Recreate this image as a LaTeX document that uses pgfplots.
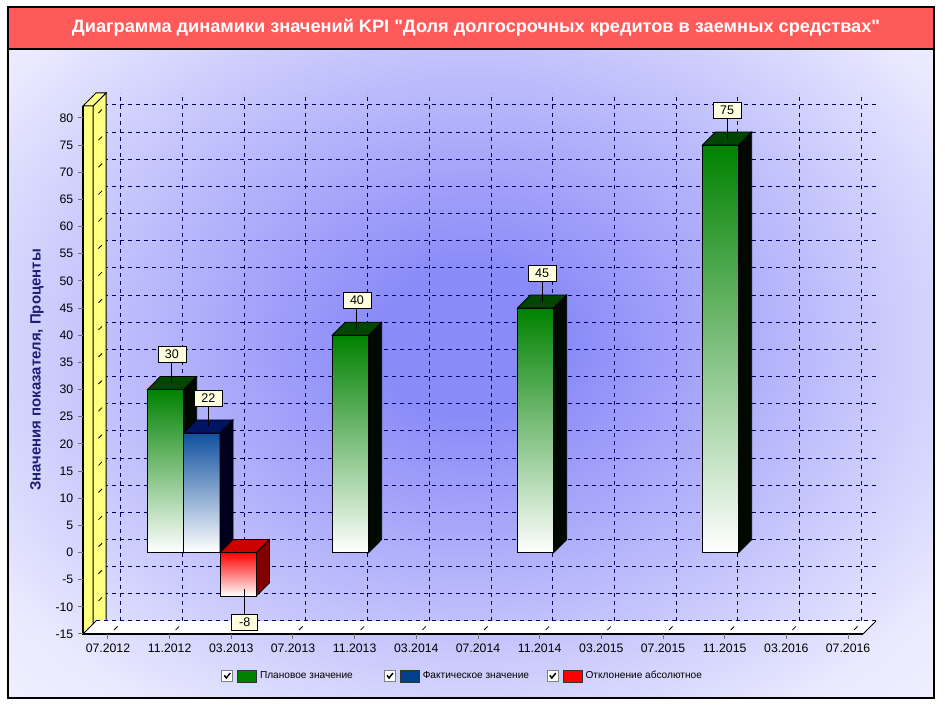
\documentclass[border=0pt]{standalone}
\usepackage{pgfplots}
\pgfplotsset{compat=1.18}
\usepackage{graphicx}
\usepackage{fontspec}
\setmainfont{Liberation Sans}[Ligatures=TeXOff]
\definecolor{titlebar}{RGB}{255,90,90}
\definecolor{glowin}{RGB}{138,138,248}
\definecolor{glowout}{RGB}{234,234,255}
\definecolor{glowedge}{RGB}{248,248,255}
\definecolor{gridnavy}{RGB}{0,0,110}
\definecolor{wallyellow}{RGB}{255,255,128}
\definecolor{plangreen}{RGB}{0,130,0}
\definecolor{plantop}{RGB}{0,70,0}
\definecolor{planside}{RGB}{0,8,0}
\definecolor{factblue}{RGB}{16,80,160}
\definecolor{facttop}{RGB}{0,20,100}
\definecolor{factside}{RGB}{0,0,30}
\definecolor{devred}{RGB}{255,0,0}
\definecolor{devtop}{RGB}{205,0,0}
\definecolor{devside}{RGB}{128,0,0}
\definecolor{labelfill}{RGB}{255,255,224}
\definecolor{ylabcol}{RGB}{30,30,115}
\definecolor{legblue}{RGB}{0,64,140}
\definecolor{leggreen}{RGB}{0,128,0}
\pgfdeclareradialshading{bgglow}{\pgfpoint{0bp}{0bp}}{color(0bp)=(glowin); color(5bp)=(glowin); color(31bp)=(glowout); color(44bp)=(glowedge); color(80bp)=(glowedge)}
\newcommand{\face}[2]{\addplot[#1, draw=black, line width=0.6pt, forget plot] coordinates {#2} -- cycle;}
\newcommand{\barfront}[4]{\addplot[ybar, bar width=27.29pt, bar shift=#1, draw=black, line width=0.6pt,
  top color=#2, bottom color=white, forget plot] coordinates {(#3,#4)};}
\newcommand{\legcheck}{%
  \fill[white] (0pt,-4.125pt) rectangle (8.25pt,4.125pt);
  \draw[black!50, line width=0.75pt] (0pt,-4.125pt) rectangle (8.25pt,4.125pt);
  \draw[black, line width=1.1pt] (1.9pt,0.5pt) -- (3.4pt,-1.5pt) -- (6.4pt,2.2pt);}
\begin{document}
\begin{tikzpicture}
\begin{scope}[x=0.75pt,y=-0.75pt,yshift=531.75pt]
  \path[use as bounding box, fill=white] (0,0) rectangle (945,709);
  \begin{scope}
    \clip (8,49) rectangle (934,698);
    \shade[shading=bgglow] (8,-14) rectangle (934,698);
  \end{scope}
  \fill[titlebar] (8,7) rectangle (934,49);
  \draw[line width=0.9pt] (8,49) -- (934,49);
  \draw[line width=0.9pt] (8,7) rectangle (934,698);
\end{scope}
% back plane grid
\begin{axis}[at={(72pt,66pt)}, anchor=south west, scale only axis,
  width=585pt, height=396pt,
  xmin=-1.62, xmax=48.97, ymin=-15, ymax=82.2,
  xtick={0,4,...,48}, ytick={-15,-10,...,80},
  grid=major, major grid style={dashed, gridnavy, line width=0.75pt},
  axis line style={draw=none}, tick style={draw=none},
  xticklabels={}, yticklabels={}]
\end{axis}
% wall and floor
\begin{scope}[x=0.75pt,y=-0.75pt,yshift=531.75pt, line width=0.75pt]
  \filldraw[fill=wallyellow] (83,106) rectangle (93,634);
  \filldraw[fill=wallyellow] (93,634) -- (93,106) -- (106,93) -- (106,621) -- cycle;
  \filldraw[fill=wallyellow] (83,106) -- (93,106) -- (106,93) -- (96,93) -- cycle;
  \foreach \v in {-15,-10,...,80} {\draw[line width=0.6pt] (98.5,{546.7-5.421*\v}) -- (102,{543.2-5.421*\v});}
  \fill[white] (83,634) -- (96,621) -- (876,621) -- (863,634) -- cycle;
  \draw (83,634) -- (96,621);
  \draw (876,621) -- (863,634);
  \draw[dashed, gridnavy] (96,621) -- (876,621);
  \foreach \m in {0,4,...,48} {\draw[line width=0.6pt] ({114+15.417*\m},630) -- ({117.5+15.417*\m},626.5);}
  \draw[line width=1.5pt] (83,634) -- (863,634);
  \draw[line width=1.5pt] (83,634.7) -- (83,106);
\end{scope}
% main axis
\begin{axis}[at={(62.25pt,56.25pt)}, anchor=south west, scale only axis,
  width=585pt, height=396pt, clip=false,
  xmin=-1.62, xmax=48.97, ymin=-15, ymax=82.2,
  axis line style={draw=none},
  xtick={0,4,...,48},
  xticklabels={07.2012,11.2012,03.2013,07.2013,11.2013,03.2014,07.2014,11.2014,03.2015,07.2015,11.2015,03.2016,07.2016},
  ytick={-15,-10,...,80},
  xtick pos=left, ytick pos=left, tick align=outside,
  major tick length=3.75pt,
  tick style={black!55, line width=0.75pt},
  /pgf/number format/assume math mode=true,
  tick label style={font=\fontsize{9.2}{11}\selectfont},
  ylabel={Значения показателя, Проценты},
  every axis y label/.style={at={(axis description cs:-0.059,0.5)}, anchor=center, rotate=90,
    font=\fontsize{11.2}{13}\selectfont\bfseries, text=ylabcol},
  title={\resizebox{606pt}{10pt}{Диаграмма динамики значений KPI "Доля долгосрочных кредитов в заемных средствах"}},
  every axis title/.style={at={(axis description cs:0.5038,1.1477)}, anchor=center,
    font=\bfseries, text=white},
  legend columns=3,
  legend style={at={(axis description cs:0.1769,-0.0795)}, anchor=west,
    draw=none, fill=none, inner sep=0pt,
    font=\fontsize{7.6}{9}\selectfont,
    /tikz/every even column/.style={column sep=0pt},
    nodes={inner sep=0pt}},
  legend cell align=left,
]
% plan values
\barfront{-3.12pt}{plangreen}{4}{30}
\face{fill=plantop}{(2.55,30) (4.91,30) (5.753,32.4) (3.393,32.4)}
\face{fill=planside}{(4.91,0) (4.91,30) (5.753,32.4) (5.753,2.4)}
\barfront{-3.12pt}{plangreen}{16}{40}
\face{fill=plantop}{(14.55,40) (16.91,40) (17.753,42.4) (15.393,42.4)}
\face{fill=planside}{(16.91,0) (16.91,40) (17.753,42.4) (17.753,2.4)}
\barfront{-3.12pt}{plangreen}{28}{45}
\face{fill=plantop}{(26.55,45) (28.91,45) (29.753,47.4) (27.393,47.4)}
\face{fill=planside}{(28.91,0) (28.91,45) (29.753,47.4) (29.753,2.4)}
\barfront{-3.12pt}{plangreen}{40}{75}
\face{fill=plantop}{(38.55,75) (40.91,75) (41.753,77.4) (39.393,77.4)}
\face{fill=planside}{(40.91,0) (40.91,75) (41.753,77.4) (41.753,2.4)}
% fact value
\barfront{24.17pt}{factblue}{4}{22}
\face{fill=facttop}{(4.91,22) (7.27,22) (8.113,24.4) (5.753,24.4)}
\face{fill=factside}{(7.27,0) (7.27,22) (8.113,24.4) (8.113,2.4)}
% absolute deviation
\barfront{51.45pt}{devred}{4}{-8}
\face{fill=devtop}{(7.27,0) (9.63,0) (10.473,2.4) (8.113,2.4)}
\face{fill=devside}{(9.63,0) (9.63,-8) (10.473,-5.6) (10.473,2.4)}
% value labels
\addplot[draw=none, mark=none, forget plot, nodes near coords, point meta=explicit symbolic,
  every node near coord/.append style={anchor=south, draw=black, fill=labelfill, line width=0.6pt,
    inner sep=0pt, minimum width=21pt, minimum height=12pt, font=\fontsize{9.4}{11}\selectfont, text=black},
  error bars/.cd, y dir=minus, y fixed=3.69, error mark=none,
  error bar style={draw=black, solid, line width=0.75pt}]
  table[meta=lab] {
x y lab
4.15 34.89 30
6.51 26.89 22
16.15 44.89 40
28.15 49.89 45
40.15 79.89 75
};
\addplot[draw=none, mark=none, forget plot, nodes near coords, point meta=explicit symbolic,
  every node near coord/.append style={anchor=north, draw=black, fill=labelfill, line width=0.6pt,
    inner sep=0pt, minimum width=19.5pt, minimum height=12pt, font=\fontsize{9.4}{11}\selectfont, text=black},
  error bars/.cd, y dir=plus, y fixed=4.43, error mark=none,
  error bar style={draw=black, solid, line width=0.75pt}]
  table[meta=lab] {
x y lab
8.87 -11.23 -8
};
% legend
\addlegendimage{legend image code/.code={\legcheck
  \filldraw[fill=leggreen, draw=black!80, line width=0.6pt] (12pt,-4.5pt) rectangle (26.25pt,4.5pt);
  \path (28.5pt,0pt);}}
\addlegendentry{\makebox[93pt][l]{Плановое значение}}
\addlegendimage{legend image code/.code={\legcheck
  \filldraw[fill=legblue, draw=black!80, line width=0.6pt] (12pt,-4.5pt) rectangle (26.25pt,4.5pt);
  \path (28.5pt,0pt);}}
\addlegendentry{\makebox[93pt][l]{Фактическое значение}}
\addlegendimage{legend image code/.code={\legcheck
  \filldraw[fill=devred, draw=black!80, line width=0.6pt] (12pt,-4.5pt) rectangle (26.25pt,4.5pt);
  \path (28.5pt,0pt);}}
\addlegendentry{\makebox[93pt][l]{Отклонение абсолютное}}
\end{axis}
\end{tikzpicture}
\end{document}
